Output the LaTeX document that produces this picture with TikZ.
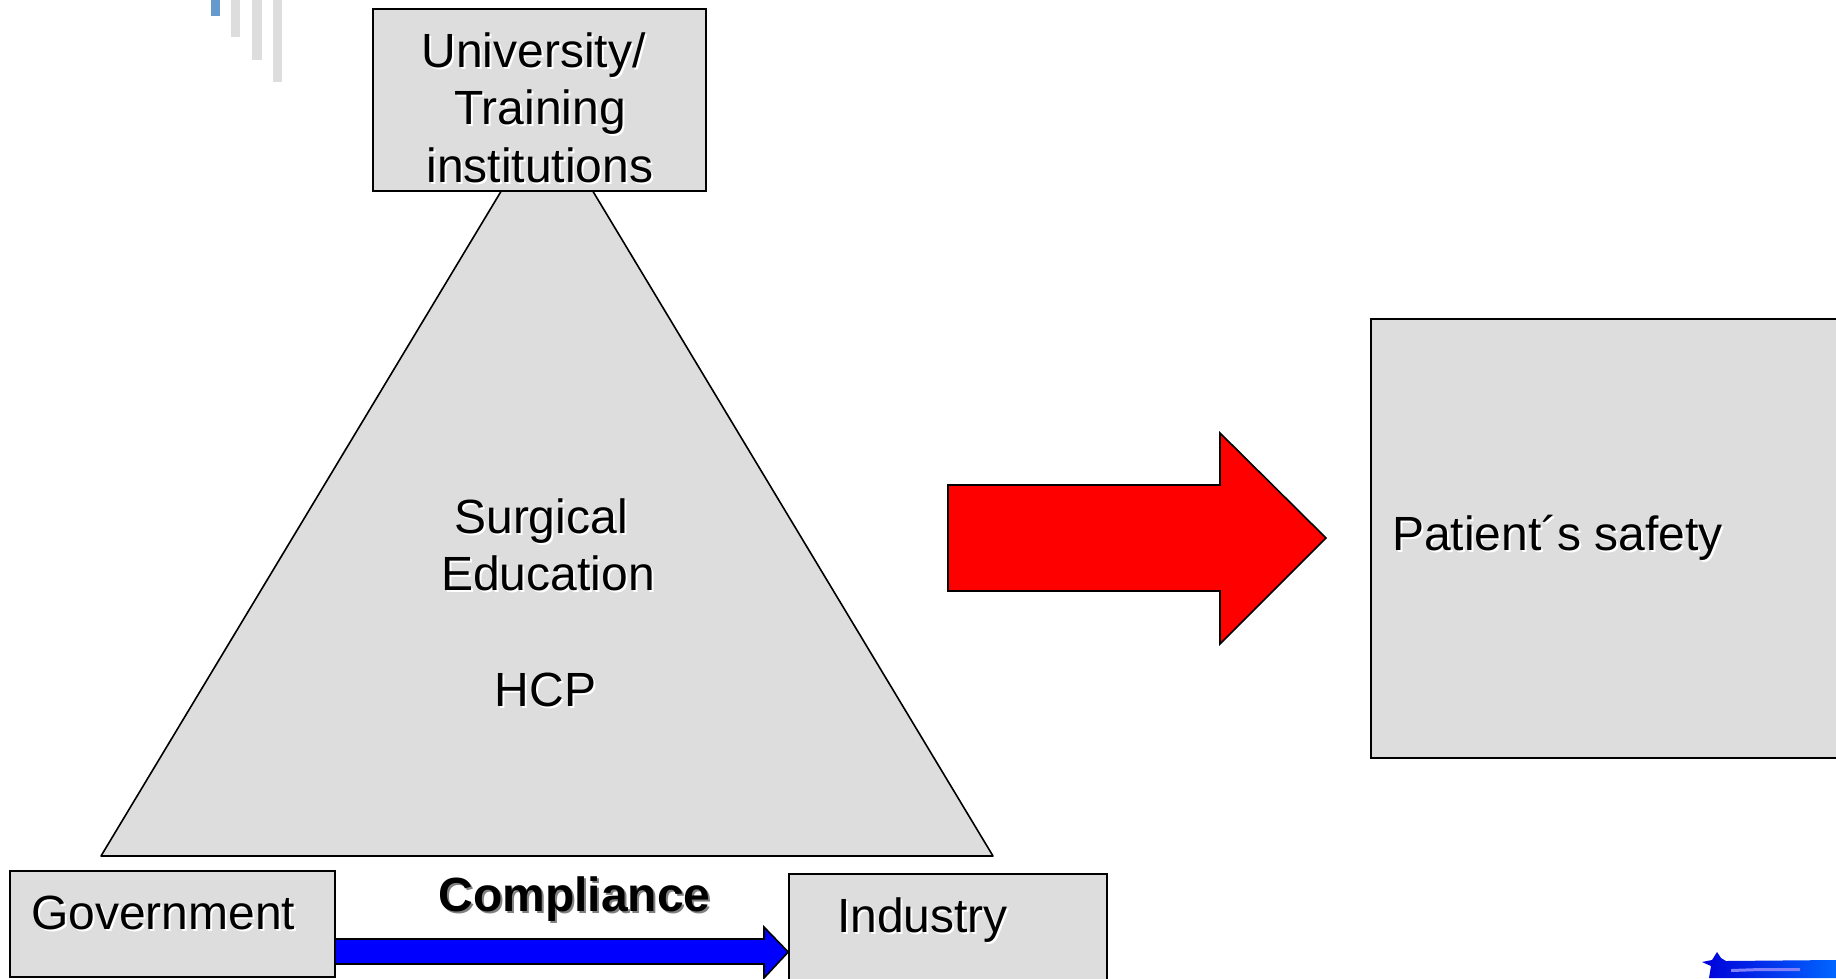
\documentclass[tikz,border=0pt]{standalone}
\usepackage{fontspec}
\setmainfont{Liberation Sans}
\definecolor{boxgray}{HTML}{DDDDDD}
\definecolor{barblue}{HTML}{6699CC}
\newcommand{\shad}[2][white]{\leavevmode\rlap{\kern2pt\raisebox{-2pt}{\textcolor{#1}{#2}}}#2}
\tikzset{
	panel/.style={draw=black,fill=boxgray,line width=1.6pt,inner sep=0pt},
	label/.style={font=\fontsize{48}{57.5}\selectfont,inner sep=0pt,align=center},
	bar/.style={fill=boxgray,draw=none},
}
\begin{document}
\begin{tikzpicture}[x=1pt,y=-1pt]
	\clip (0,0) rectangle (1836,978);
	\fill[white] (0,0) rectangle (1836,978);
	% bars in the corner
	\fill[barblue] (211,0) rectangle (220,16);
	\fill[bar] (231,0) rectangle (240,37);
	\fill[bar] (252,0) rectangle (262,60);
	\fill[bar] (273,0) rectangle (282,82);
	% triangle
	\draw[panel,line join=round] (547,115)--(993,856)--(101,856)--cycle;
	% boxes
	\node[panel,minimum width=333pt,minimum height=182pt] (univ) at (539.5,100) {};
	\node[panel,minimum width=325pt,minimum height=106pt] (gov) at (172.5,924) {};
	\node[panel,minimum width=318pt,minimum height=140pt] (ind) at (948,944) {};
	\node[panel,minimum width=520pt,minimum height=439pt] (safe) at (1631,538.5) {};
	% arrows
	\draw[fill=blue,line width=1.6pt] (gov.east|-0,939)--(764,939)--(764,927)--(ind.west|-0,952)--(764,978)--(764,964)--(gov.east|-0,964);
	\draw[fill=red,line width=1.6pt] (948,485)--(1220,485)--(1220,433)--(1326,538)--(1220,644)--(1220,591)--(948,591)--cycle;
	% texts
	\node[label] (univtext) at (540,108.5) {\shad{University/}\hspace*{13pt}\\ \shad{Training}\\ \shad{institutions}};
	\node[label,anchor=base] (surg) at (541,533) {\shad{Surgical}};
	\node[label,anchor=base] (edu) at (548,590) {\shad{Education}};
	\node[label,anchor=base] (hcp) at (545.5,706) {\shad{HCP}};
	\node[label,anchor=base west] (govtext) at (31,929) {\shad{Government}};
	\node[label,anchor=base,font=\fontsize{48}{57.5}\selectfont\bfseries] (comp) at (574.5,911) {\shad[gray]{Compliance}};
	\node[label,anchor=base west] (indtext) at (837,932) {\shad{Industry}};
	\node[label,anchor=base west] (safetext) at (1392,550.5) {\shad{Patient´s safety}};
	% brush mark
	\shade[left color=blue!85!black,right color=blue!60!cyan] (1702,962)--(1712,960)--(1717,952)--(1721,958)--(1726,961)--(1836,960)--(1836,978)--(1709,978)--(1711,966)--cycle;
	\fill[blue!50!white] (1731,969)--(1760,968)--(1800,968)--(1800,971)--(1760,971)--(1731,972)--cycle;
\end{tikzpicture}
\end{document}
